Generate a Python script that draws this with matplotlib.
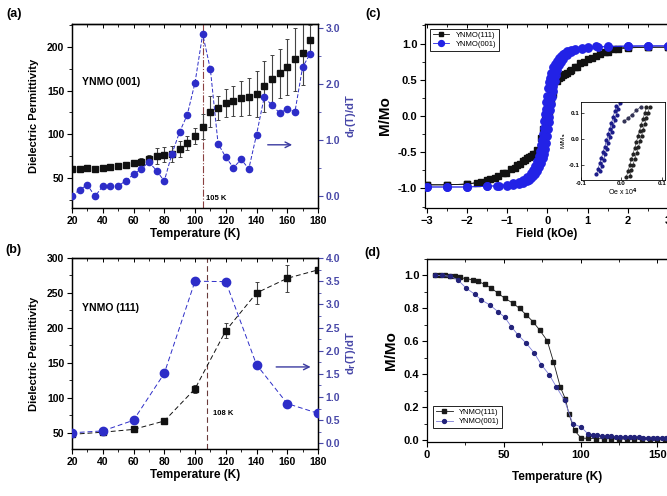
import matplotlib
matplotlib.use("Agg")
import matplotlib.pyplot as plt
from matplotlib.ticker import MultipleLocator, FormatStrFormatter

plt.rcParams["font.family"] = ["Liberation Sans", "DejaVu Sans"]
plt.rcParams["font.weight"] = "bold"
plt.rcParams["axes.labelweight"] = "bold"
plt.rcParams["mathtext.default"] = "bf"
plt.rcParams["axes.linewidth"] = 0.9
plt.rcParams["xtick.labelsize"] = 7.5
plt.rcParams["ytick.labelsize"] = 7.5

# ---------------- (a) YNMO (001): permittivity and derivative ----------------
temp_a = [20, 25, 30, 35, 40, 45, 50, 55, 60, 65, 70, 75, 80, 85, 90, 95,
          100, 105, 110, 115, 120, 125, 130, 135, 140, 145, 150, 155, 160, 165, 170, 175]
eps_a = [61, 60, 62, 61, 62, 63, 64, 65, 67, 69, 72, 75, 77, 78, 83, 90,
         98, 109, 126, 130, 136, 138, 141, 143, 146, 155, 163, 170, 177, 186, 193, 208]
eps_err_a = [2, 2, 2, 2, 2, 2, 3, 3, 3, 4, 5, 9, 9, 9, 9, 8,
             9, 14, 18, 14, 16, 17, 20, 21, 26, 29, 28, 28, 32, 36, 37, 17]
deriv_a = [0.0, 0.12, 0.20, 0.0, 0.18, 0.18, 0.18, 0.28, 0.39, 0.49, 0.61, 0.46, 0.27, 0.76, 1.15, 1.46,
           2.03, 2.90, 2.27, 0.94, 0.70, 0.51, 0.66, 0.49, 1.10, 1.77, 1.63, 1.49, 1.56, 1.51, 2.31, 2.55]
tc_a = 105

# ---------------- (b) YNMO (111): permittivity and derivative ----------------
temp_b = [20, 40, 60, 80, 100, 120, 140, 160, 180]
eps_b = [48, 51, 55, 67, 113, 196, 250, 271, 283]
eps_err_b = [2, 2, 2, 3, 6, 11, 16, 19, 3]
deriv_b = [0.23, 0.27, 0.50, 1.51, 3.50, 3.49, 1.70, 0.86, 0.65]
tc_b = 108

# ---------------- (c) M-H loops ----------------
field_dn_111 = [3.0, 2.5, 2.0, 1.64, 1.43, 1.22, 1.02, 0.81, 0.69, 0.56, 0.45, 0.35, 0.25, 0.15,
                0.1, 0.05, 0.0, -0.05, -0.1, -0.15, -0.2, -0.3, -0.4, -0.5, -0.6, -0.75, -0.9,
                -1.1, -1.3, -1.5, -1.75, -2.0, -2.5, -3.0]
m_dn_111 = [0.95, 0.95, 0.95, 0.93, 0.88, 0.83, 0.78, 0.73, 0.67, 0.62, 0.58, 0.54, 0.48, 0.30,
            0.18, 0.05, -0.08, -0.20, -0.32, -0.42, -0.48, -0.52, -0.55, -0.58, -0.62, -0.67, -0.73,
            -0.79, -0.85, -0.89, -0.92, -0.94, -0.95, -0.95]
field_up_111 = [-3.0, -2.5, -2.0, -1.64, -1.43, -1.22, -1.02, -0.81, -0.69, -0.56, -0.45, -0.35, -0.25,
                -0.15, -0.1, -0.05, 0.0, 0.05, 0.1, 0.15, 0.2, 0.3, 0.4, 0.5, 0.6, 0.75, 0.9,
                1.1, 1.3, 1.5, 1.75, 2.0, 2.5, 3.0]
m_up_111 = [-0.95, -0.95, -0.94, -0.91, -0.87, -0.83, -0.78, -0.72, -0.66, -0.61, -0.57, -0.53, -0.47,
            -0.30, -0.18, -0.05, 0.08, 0.20, 0.32, 0.42, 0.48, 0.53, 0.56, 0.59, 0.63, 0.68, 0.74,
            0.80, 0.85, 0.89, 0.92, 0.94, 0.95, 0.95]

field_dn_001 = [3.0, 2.5, 2.0, 1.5, 1.2, 1.0, 0.85, 0.7, 0.6, 0.5, 0.45, 0.4, 0.35, 0.3, 0.25, 0.2,
                0.15, 0.1, 0.07, 0.05, 0.02, 0.0, -0.02, -0.04, -0.05, -0.07, -0.09, -0.11, -0.13,
                -0.15, -0.18, -0.21, -0.25, -0.3, -0.35, -0.4, -0.5, -0.6, -0.7, -0.85, -1.0, -1.25,
                -1.5, -2.0, -2.5, -3.0]
m_dn_001 = [0.97, 0.97, 0.97, 0.96, 0.96, 0.955, 0.945, 0.93, 0.915, 0.895, 0.87, 0.85, 0.825, 0.80,
            0.765, 0.72, 0.67, 0.60, 0.53, 0.47, 0.38, 0.28, 0.19, 0.09, 0.03, -0.07, -0.16, -0.25,
            -0.33, -0.40, -0.48, -0.55, -0.62, -0.69, -0.74, -0.78, -0.84, -0.88, -0.91, -0.93,
            -0.95, -0.96, -0.97, -0.98, -0.98, -0.98]
field_up_001 = [-3.0, -2.5, -2.0, -1.5, -1.2, -1.0, -0.85, -0.7, -0.6, -0.5, -0.45, -0.4, -0.35, -0.3,
                -0.25, -0.2, -0.15, -0.1, -0.07, -0.05, -0.02, 0.0, 0.02, 0.04, 0.05, 0.07, 0.09,
                0.11, 0.13, 0.15, 0.18, 0.21, 0.25, 0.3, 0.35, 0.4, 0.5, 0.6, 0.7, 0.85, 1.0, 1.25,
                1.5, 2.0, 2.5, 3.0]
m_up_001 = [-0.98, -0.98, -0.98, -0.97, -0.965, -0.96, -0.95, -0.935, -0.92, -0.90, -0.88, -0.86,
            -0.83, -0.80, -0.76, -0.71, -0.65, -0.58, -0.52, -0.46, -0.37, -0.27, -0.18, -0.08,
            -0.02, 0.08, 0.17, 0.26, 0.34, 0.41, 0.49, 0.56, 0.63, 0.70, 0.75, 0.79, 0.845, 0.88,
            0.905, 0.925, 0.94, 0.95, 0.955, 0.96, 0.965, 0.965]

# low-field close-up (Oe x 10^4, M/Ms)
zoom_h_001a = [-0.0617, -0.0576, -0.0535, -0.0494, -0.0453, -0.0412, -0.037, -0.033, -0.029,
               -0.0247, -0.0206, -0.0165, -0.0123]
zoom_m_001a = [-0.138, -0.116, -0.094, -0.074, -0.052, -0.030, -0.006, 0.017, 0.039, 0.061, 0.084,
               0.107, 0.129]
zoom_h_001b = [-0.052, -0.048, -0.044, -0.040, -0.036, -0.032, -0.028, -0.024, -0.020, -0.016,
               -0.012, -0.008, -0.004]
zoom_m_001b = [-0.125, -0.104, -0.082, -0.060, -0.038, -0.016, 0.006, 0.028, 0.050, 0.072, 0.094,
               0.116, 0.138]
zoom_h_111a = [0.0123, 0.0165, 0.0206, 0.0247, 0.0288, 0.033, 0.037, 0.041, 0.045, 0.049, 0.0535,
               0.0576, 0.0617]
zoom_m_111a = [-0.148, -0.125, -0.103, -0.080, -0.058, -0.035, -0.013, 0.009, 0.032, 0.055, 0.077,
               0.099, 0.123]
zoom_h_111b = [0.021, 0.025, 0.029, 0.033, 0.038, 0.042, 0.046, 0.050, 0.054, 0.058, 0.062, 0.066,
               0.070]
zoom_m_111b = [-0.145, -0.122, -0.100, -0.078, -0.055, -0.033, -0.010, 0.012, 0.035, 0.058, 0.080,
               0.102, 0.125]
zoom_h_111c = [0.0066, 0.0165, 0.026, 0.037, 0.048]
zoom_m_111c = [0.068, 0.081, 0.094, 0.110, 0.125]

# ---------------- (d) M-T curves ----------------
temp_d_111 = [5, 8.3, 11.5, 14.8, 18, 21.3, 25.6, 30, 33.2, 37.5, 41.9, 46.2, 50.6, 56, 60.3, 64.7,
              69, 73.3, 78.3, 82.4, 86.8, 90.2, 92.4, 96.1, 100.4, 105, 110, 115, 120, 125, 130,
              135, 140, 145, 150, 155, 160]
mag_d_111 = [1.0, 1.0, 1.0, 0.998, 0.994, 0.988, 0.98, 0.974, 0.964, 0.947, 0.923, 0.893, 0.862,
             0.832, 0.80, 0.761, 0.72, 0.67, 0.605, 0.477, 0.325, 0.25, 0.162, 0.06, 0.014, 0.012,
             0.01, 0.01, 0.01, 0.008, 0.008, 0.008, 0.008, 0.008, 0.008, 0.008, 0.008]
temp_d_001 = [5, 10, 15, 20, 25.6, 31, 35.4, 40.8, 46.2, 50.6, 54.9, 59.2, 64.7, 70, 74.4, 79.8,
              84.2, 89.6, 95, 100.4, 104.8, 108, 111, 114, 117, 120, 123, 126, 129, 132, 135, 138,
              141, 144, 147, 150, 153, 156, 159]
mag_d_001 = [1.0, 1.0, 0.995, 0.974, 0.923, 0.887, 0.852, 0.822, 0.781, 0.747, 0.69, 0.64, 0.589,
             0.528, 0.46, 0.396, 0.325, 0.243, 0.10, 0.081, 0.04, 0.032, 0.03, 0.028, 0.025, 0.024,
             0.022, 0.02, 0.02, 0.02, 0.018, 0.018, 0.017, 0.017, 0.016, 0.016, 0.016, 0.015, 0.015]

BLUE = "#2d2dc8"
BLUE_AX = "#4848a8"
W, H = 667, 496
fig = plt.figure(figsize=(W / 100, H / 100), dpi=100)


def frame(left, top, right, bottom):
    return [left / W, 1 - bottom / H, (right - left) / W, (bottom - top) / H]


def dress(ax, xmaj, xmin, ymaj, ymin):
    ax.xaxis.set_major_locator(MultipleLocator(xmaj))
    ax.xaxis.set_minor_locator(MultipleLocator(xmin))
    ax.yaxis.set_major_locator(MultipleLocator(ymaj))
    ax.yaxis.set_minor_locator(MultipleLocator(ymin))
    ax.tick_params(which="major", direction="out", length=3.5, width=0.8, pad=2)
    ax.tick_params(which="minor", direction="out", length=2, width=0.6)
    top = ax.secondary_xaxis("top")
    top.xaxis.set_major_locator(MultipleLocator(xmaj))
    top.xaxis.set_minor_locator(MultipleLocator(xmin))
    top.tick_params(which="major", direction="in", length=3, width=0.7, labeltop=False)
    top.tick_params(which="minor", direction="in", length=2, width=0.6)


# ---------- panel (a) ----------
ax_a = fig.add_axes(frame(72, 24, 318, 208))
ax_a.errorbar(temp_a, eps_a, yerr=eps_err_a, fmt="s", color="#111111", ms=4.3,
              ecolor="#444444", elinewidth=0.8, capsize=1.5, capthick=0.7, zorder=3)
ax_a.axvline(tc_a, color="#8a4040", ls="-.", lw=0.8, zorder=1)
ax_a.set_xlim(20, 180)
ax_a.set_ylim(16, 226)
dress(ax_a, 20, 10, 50, 25)
ax_a.set_xlabel("Temperature (K)", fontsize=8.5, labelpad=2)
ax_a.set_ylabel("Dielectric Permittivity", fontsize=8, labelpad=6)
ax_a.text(26.5, 160, "YNMO (001)", fontsize=7.5, va="center")
ax_a.text(tc_a + 2, 27, f"{tc_a} K", fontsize=5.5, va="center")

ax_a2 = ax_a.twinx()
ax_a2.plot(temp_a, deriv_a, "o", color=BLUE, ms=4.5, ls=(0, (4, 2)), lw=0.7, zorder=4)
ax_a2.set_ylim(-0.21, 3.08)
ax_a2.yaxis.set_major_locator(MultipleLocator(1))
ax_a2.yaxis.set_minor_locator(MultipleLocator(0.5))
ax_a2.yaxis.set_major_formatter(FormatStrFormatter("%.1f"))
ax_a2.tick_params(axis="y", which="major", direction="out", length=3.5, width=0.8, pad=2,
                  labelcolor=BLUE_AX, color=BLUE_AX)
ax_a2.tick_params(axis="y", which="minor", direction="out", length=2, width=0.6, color=BLUE_AX)
ax_a2.set_ylabel("d$_r$(T)/dT", color=BLUE_AX, fontsize=8, labelpad=3)
ax_a2.annotate("", xy=(165, 0.92), xytext=(145.5, 0.92),
               arrowprops=dict(arrowstyle="->", color="#3a3aa0", lw=1.0))

# ---------- panel (b) ----------
ax_b = fig.add_axes(frame(72, 258, 318, 449))
ax_b.errorbar(temp_b, eps_b, yerr=eps_err_b, fmt="s", color="#111111", ms=4.3,
              ecolor="#444444", elinewidth=0.8, capsize=1.5, capthick=0.7, zorder=3,
              ls=(0, (5, 3)), lw=0.7)
ax_b.axvline(tc_b, color="#6a3a3a", ls=(0, (5, 3)), lw=0.8, zorder=1)
ax_b.set_xlim(20, 180)
ax_b.set_ylim(27, 300)
dress(ax_b, 20, 10, 50, 25)
ax_b.set_xlabel("Temperature (K)", fontsize=8.5, labelpad=2)
ax_b.set_ylabel("Dielectric Permittivity", fontsize=8, labelpad=6)
ax_b.text(26.5, 228, "YNMO (111)", fontsize=7.5, va="center")
ax_b.text(tc_b + 4, 78, f"{tc_b} K", fontsize=5.5, va="center")

ax_b2 = ax_b.twinx()
ax_b2.plot(temp_b, deriv_b, "o", color=BLUE, ms=6, ls=(0, (5, 3)), lw=0.7, zorder=4)
ax_b2.set_ylim(-0.12, 4.0)
ax_b2.yaxis.set_major_locator(MultipleLocator(0.5))
ax_b2.yaxis.set_minor_locator(MultipleLocator(0.25))
ax_b2.yaxis.set_major_formatter(FormatStrFormatter("%.1f"))
ax_b2.tick_params(axis="y", which="major", direction="out", length=3.5, width=0.8, pad=2,
                  labelcolor=BLUE_AX, color=BLUE_AX)
ax_b2.tick_params(axis="y", which="minor", direction="out", length=2, width=0.6, color=BLUE_AX)
ax_b2.set_ylabel("d$_r$(T)/dT", color=BLUE_AX, fontsize=8, labelpad=3)
ax_b2.annotate("", xy=(177, 1.65), xytext=(151, 1.65),
               arrowprops=dict(arrowstyle="->", color="#3a3aa0", lw=1.0))

# ---------- panel (c) ----------
BLUE_C = "#2222e6"
ax_c = fig.add_axes(frame(425, 24, 668, 208))
ax_c.plot(field_dn_111, m_dn_111, "s", color="#111111", ms=3.8, ls="-", lw=0.6,
          mec="#111111", label="YNMO(111)", zorder=3)
ax_c.plot(field_up_111, m_up_111, "s", color="#111111", ms=3.8, ls="-", lw=0.6, zorder=3)
ax_c.plot(field_dn_001, m_dn_001, "o", color=BLUE_C, ms=5.3, ls="-", lw=0.6,
          label="YNMO(001)", zorder=4)
ax_c.plot(field_up_001, m_up_001, "o", color=BLUE_C, ms=5.3, ls="-", lw=0.6, zorder=4)
ax_c.set_xlim(-3.04, 3.0)
ax_c.set_ylim(-1.27, 1.27)
dress(ax_c, 1, 0.5, 0.5, 0.25)
ax_c.yaxis.set_major_formatter(FormatStrFormatter("%.1f"))
ax_c.tick_params(labelsize=8)
ax_c.set_xlabel("Field (kOe)", fontsize=8.5, labelpad=2)
ax_c.set_ylabel("M/Mo", fontsize=11, labelpad=4)
leg_c = ax_c.legend(loc="upper left", bbox_to_anchor=(0.02, 0.975),
                    frameon=True, fancybox=False, edgecolor="#222222", framealpha=1,
                    borderaxespad=0, handlelength=2.2, borderpad=0.35, labelspacing=0.25,
                    markerscale=0.8, prop={"weight": "normal", "size": 5.5})
leg_c.get_frame().set_linewidth(0.7)

ax_in = fig.add_axes(frame(581, 102, 665, 180))
ax_in.plot(zoom_h_001a, zoom_m_001a, "o", color="#1c1c8a", ms=2.0, ls="-", lw=0.4)
ax_in.plot(zoom_h_001b, zoom_m_001b, "o", color="#1c1c8a", ms=2.0, ls="-", lw=0.4)
ax_in.plot(zoom_h_111a, zoom_m_111a, "o", color="#222222", ms=2.0, ls="-", lw=0.4)
ax_in.plot(zoom_h_111b, zoom_m_111b, "o", color="#222222", ms=2.0, ls="-", lw=0.4)
ax_in.plot(zoom_h_111c, zoom_m_111c, "o", color="#333355", ms=2.0, ls="-", lw=0.4)
ax_in.set_xlim(-0.1, 0.108)
ax_in.set_ylim(-0.16, 0.143)
ax_in.xaxis.set_major_locator(MultipleLocator(0.1))
ax_in.yaxis.set_major_locator(MultipleLocator(0.1))
ax_in.xaxis.set_major_formatter(FormatStrFormatter("%.1f"))
ax_in.yaxis.set_major_formatter(FormatStrFormatter("%.1f"))
ax_in.tick_params(labelsize=4.5, length=2, width=0.5, pad=1, direction="in")
ax_in.set_xlabel("Oe x 10$^4$", fontsize=5, labelpad=0.5, fontweight="normal")
ax_in.set_ylabel("M/M$_s$", fontsize=4.5, labelpad=0.5, fontweight="normal")
for s in ax_in.spines.values():
    s.set_linewidth(0.6)

# ---------- panel (d) ----------
ax_d = fig.add_axes(frame(427, 259, 734, 442))
ax_d.plot(temp_d_111, mag_d_111, "s", color="#1a1a1a", ms=2.6, ls="-", lw=0.6,
          label="YNMO(111)", zorder=3)
ax_d.plot(temp_d_001, mag_d_001, "o", color="#7b7bd6", ms=2.8, ls="-", lw=0.6,
          mfc="#23237a", mec="#23237a", label="YNMO(001)", zorder=4)
ax_d.set_xlim(0, 200)
ax_d.set_ylim(-0.01, 1.1)
dress(ax_d, 50, 25, 0.2, 0.1)
ax_d.yaxis.set_major_formatter(FormatStrFormatter("%.1f"))
ax_d.tick_params(labelsize=8)
ax_d.set_xlabel("Temperature (K)", fontsize=8.5)
ax_d.xaxis.set_label_coords((557 - 427) / 307, -0.16)
ax_d.set_ylabel("M/Mo", fontsize=11, labelpad=4)
leg_d = ax_d.legend(loc="lower left", bbox_to_anchor=(0.02, 0.077),
                    frameon=True, fancybox=False, edgecolor="#222222", framealpha=1,
                    borderaxespad=0, handlelength=2.2, borderpad=0.35, labelspacing=0.25,
                    prop={"weight": "normal", "size": 5.5})
leg_d.get_frame().set_linewidth(0.7)

# panel tags
for tag, x, y in [("(a)", 14, 14), ("(b)", 13, 250), ("(c)", 373, 14), ("(d)", 372, 253)]:
    fig.text(x / W, 1 - y / H, tag, fontsize=9, ha="center", va="center")

fig.savefig("out.png", dpi=100)
